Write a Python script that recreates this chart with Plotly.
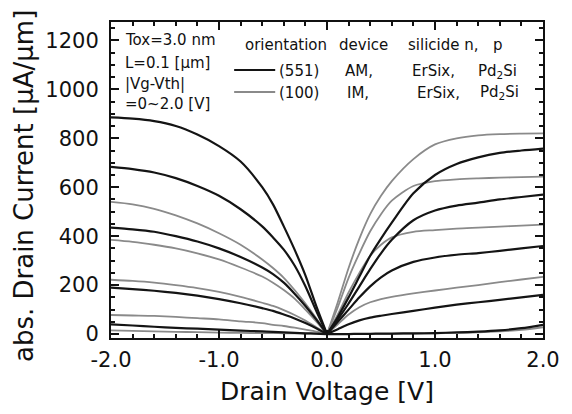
import plotly.graph_objects as go

# Drain voltage magnitudes (V)
V_MAG = [0, 0.1, 0.2, 0.3, 0.4, 0.5, 0.6, 0.8, 1.0, 1.2, 1.4, 1.6, 1.8, 2.0]
V_NEG = [-v for v in V_MAG]
V_POS = V_MAG

# Negative side (p-channel, Pd2Si), |Id| in uA/um, |Vg-Vth| = 2.0, 1.5, 1.0, 0.5, 0
neg_551 = [
    [0, 115, 240, 345, 440, 530, 600, 705, 768, 815, 850, 870, 880, 885],
    [0, 95, 195, 280, 345, 395, 440, 510, 565, 605, 637, 660, 674, 683],
    [0, 60, 115, 165, 210, 245, 272, 315, 350, 378, 400, 418, 428, 435],
    [0, 24, 45, 64, 80, 95, 106, 126, 143, 157, 168, 177, 184, 190],
    [0, 2, 3, 5, 7, 9, 11, 14, 18, 22, 25, 30, 35, 40],
]
neg_100 = [
    [0, 65, 125, 180, 230, 270, 305, 365, 412, 452, 485, 512, 530, 540],
    [0, 52, 100, 145, 180, 210, 235, 272, 305, 330, 350, 365, 377, 385],
    [0, 28, 55, 78, 98, 115, 128, 152, 172, 188, 200, 210, 217, 222],
    [0, 10, 18, 26, 33, 38, 45, 52, 60, 65, 70, 74, 76, 78],
    [0, 1, 2, 3, 3, 4, 4, 5, 6, 8, 9, 11, 13, 15],
]
# Positive side (n-channel, ErSix)
pos_551 = [
    [0, 70, 150, 235, 320, 390, 455, 575, 650, 695, 722, 740, 750, 758],
    [0, 60, 125, 195, 265, 330, 385, 465, 505, 525, 537, 550, 560, 570],
    [0, 50, 100, 150, 195, 232, 260, 295, 313, 324, 331, 340, 350, 360],
    [0, 20, 40, 56, 67, 75, 82, 95, 108, 120, 130, 140, 150, 160],
    [0, 0, 0, 1, 1, 2, 2, 3, 4, 7, 10, 15, 24, 38],
]
pos_100 = [
    [0, 130, 270, 390, 490, 565, 625, 715, 775, 800, 812, 817, 819, 820],
    [0, 110, 230, 330, 420, 490, 545, 605, 625, 632, 636, 639, 641, 643],
    [0, 80, 170, 250, 320, 365, 395, 418, 425, 431, 435, 439, 443, 447],
    [0, 40, 80, 110, 130, 143, 152, 166, 178, 190, 200, 212, 223, 234],
    [0, 0, 0, 0, 1, 1, 1, 2, 3, 5, 7, 11, 17, 28],
]

X_TICKS = [-2, -1, 0, 1, 2]
X_TICKTEXT = ["-2.0", "-1.0", "0.0", "1.0", "2.0"]
Y_TICKS = [0, 200, 400, 600, 800, 1000, 1200]
Y_TICKTEXT = ["0", "200", "400", "600", "800", "1000", "1200"]

BLACK = "#141414"
GRAY = "#8a8a8a"
FONT = "DejaVu Sans"

fig = go.Figure()
for curves, xs in ((neg_100, V_NEG), (pos_100, V_POS)):
    for ys in curves:
        fig.add_trace(go.Scatter(x=xs, y=ys, mode="lines",
                                 line=dict(color=GRAY, width=1.8, shape="spline", smoothing=0.8),
                                 showlegend=False, hoverinfo="skip"))
for curves, xs in ((neg_551, V_NEG), (pos_551, V_POS)):
    for ys in curves:
        fig.add_trace(go.Scatter(x=xs, y=ys, mode="lines",
                                 line=dict(color=BLACK, width=2.2, shape="spline", smoothing=0.8),
                                 showlegend=False, hoverinfo="skip"))

L, R, T, B = 111, 553, 22, 338
W, H = 572, 414


def px(x):
    return (x - L) / (R - L)


def py(y):
    return (B - y) / (B - T)


annots = []


def txt(text, x, y, size=15, anchor="left", color="#111"):
    annots.append(dict(text=text, x=px(x), y=py(y), xref="paper", yref="paper",
                       xanchor=anchor, yanchor="middle", showarrow=False,
                       font=dict(family=FONT, size=size, color=color)))


txt("Tox=3.0 nm", 123, 40)
txt("L=0.1 [μm]", 123, 63)
txt("|Vg-Vth|", 123, 84)
txt("=0~2.0 [V]", 123, 104)

txt("orientation", 246, 45)
txt("device", 342, 45)
txt("silicide n,", 413, 45)
txt("p", 500, 45)
txt("(551)", 281, 71)
txt("AM,", 348, 71)
txt("ErSix,", 417, 71)
txt("Pd<sub>2</sub>Si", 484, 71)
txt("(100)", 281, 93)
txt("IM,", 350, 93)
txt("ErSix,", 422, 93)
txt("Pd<sub>2</sub>Si", 487, 93)

annots.append(dict(text="Drain Voltage [V]", x=px(332), y=py(391), xref="paper", yref="paper",
                   xanchor="center", yanchor="middle", showarrow=False,
                   font=dict(family=FONT, size=25, color="#111")))
annots.append(dict(text="abs. Drain Current [μA/μm]", x=px(22), y=py(186), xref="paper", yref="paper",
                   xanchor="center", yanchor="middle", showarrow=False, textangle=-90,
                   font=dict(family=FONT, size=26, color="#111")))

shapes = [
    dict(type="line", xref="paper", yref="paper", x0=px(237), x1=px(279), y0=py(70), y1=py(70),
         line=dict(color=BLACK, width=2.2)),
    dict(type="line", xref="paper", yref="paper", x0=px(237), x1=px(279), y0=py(92), y1=py(92),
         line=dict(color=GRAY, width=1.8)),
]

axis_common = dict(showline=True, linewidth=2, linecolor="#111", mirror="allticks",
                   ticks="inside", tickwidth=2, tickcolor="#111", showgrid=False,
                   zeroline=False, tickfont=dict(family=FONT, size=21, color="#111"))

fig.update_layout(
    width=W, height=H,
    margin=dict(l=L, r=W - R, t=T, b=H - B),
    paper_bgcolor="white", plot_bgcolor="white",
    xaxis=dict(range=[-2, 2], tickvals=X_TICKS, ticktext=X_TICKTEXT, ticklen=8,
               minor=dict(dtick=0.2, tick0=0, ticks="inside", ticklen=4, tickwidth=1.5, tickcolor="#111"),
               ticklabelstandoff=2, **axis_common),
    yaxis=dict(range=[-16, 1275], tickvals=Y_TICKS, ticktext=Y_TICKTEXT, ticklen=8,
               minor=dict(dtick=50, tick0=0, ticks="inside", ticklen=4, tickwidth=1.5, tickcolor="#111"),
               ticklabelstandoff=6, **axis_common),
    annotations=annots, shapes=shapes,
)

fig.write_html("out.html")
